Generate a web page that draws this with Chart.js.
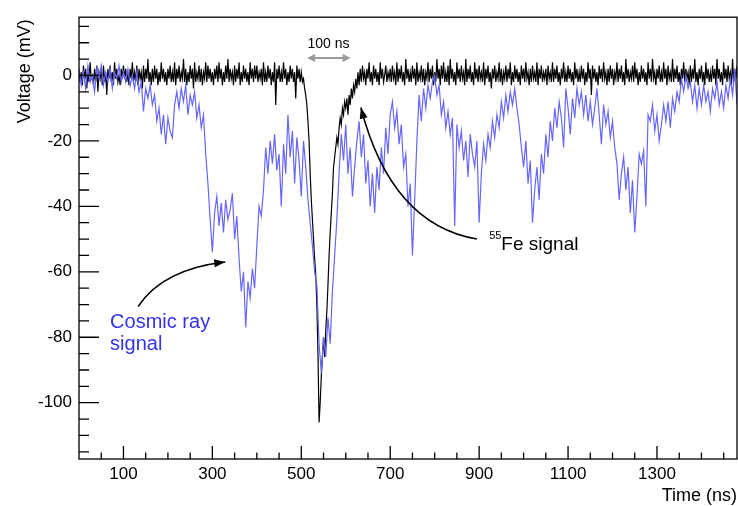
<!DOCTYPE html>
<html lang="en">
<head>
<meta charset="UTF-8">
<title>55Fe and cosmic ray waveforms</title>
<style>
  html, body { margin:0; padding:0; background:#fff; overflow:hidden; }
  canvas#chart { display:block; }
</style>
</head>
<body>
<canvas id="chart" width="738" height="506"></canvas>
<script src="https://cdn.jsdelivr.net/npm/chart.js"></script>
<script>
// sampling grids of the two scope traces (ns)
const feStep = 2.5;
const cosmicStep = 5;

// 55Fe signal, mV, one value every 2.5 ns from t = 0
const feSignal = [
  2,-2,1,-3,3,-1,2,-4,1,-2, 4,-1,0,-3,2,-2,3,-5,1,-1, 2,-3,3,-2,1,-6,2,-1,3,-2, 1,-3,4,-1,2,-2,0,-3,2,-1,
  3,-1,2,-2,1,-3,2,-1,4,-2, 1,-2,3,-3,2,-1,1,-4,3,-2, 2,-1,5,-2,1,-3,2,-2,3,-1, 2,-3,1,-2,4,-1,2,-2,1,-3,
  2,-1,3,-2,1,-2,4,-3,2,-1, 3,-2,1,-1,5,-2,2,-3,1,-2, 3,-1,2,-4,4,-2,1,-1,3,-2, 2,-3,1,-1,4,-2,3,-1,2,-2,
  1,-3,2,-1,3,-2,4,-1,2,-3, 1,-2,3,-1,5,-2,2,-1,1,-3, 3,-2,2,-1,4,-3,1,-2,3,-1, 2,-2,1,-3,4,-1,2,-2,3,-1,
  3,-2,1,-1,2,-3,4,-2,1,-2, 3,-1,2,-3,1,-2,4,-9,2,-1, 3,-2,1,-2,4,-1,2,-3,1,-2, 3,-1,2,-2,1,-7,3,-1,2,-2,
  1,-2,-1,-4,-6,-9,-14,-20,-30,-38, -44,-50,-56,-61,-70,-85,-106,-100,-92,-86, -80,-86,-78,-72,-64,-55,-48,-42,-36,-28, -25,-22,-19,-21,-16,-13,-15,-10,-12,-8,
  -10,-7,-12,-6,-9,-4,-7,-3,-5,-1, -4,1,-3,2,-2,3,-1,1,-3,2, -1,4,-2,1,-3,3,-1,2,-2,1, -3,4,-1,2,-2,0,3,-2,1,-1,
  2,-2,3,-1,1,-3,4,-2,2,-1, 3,-2,1,-3,5,-1,2,-2,1,-2, 3,-1,2,-3,4,-2,1,-1,3,-2, 2,-3,1,-1,4,-2,2,-1,3,-3,
  1,-2,5,-1,2,-3,3,-1,4,-2, 1,-2,3,-3,5,-1,2,-2,1,-3, 4,-1,2,-2,3,-1,1,-3,5,-2, 2,-1,3,-2,1,-3,4,-1,2,-2,
  3,-1,1,-2,4,-3,2,-1,3,-2, 1,-4,2,-1,3,-2,1,-1,4,-2, 2,-3,1,-1,3,-2,2,-1,4,-3, 1,-2,3,-1,2,-2,1,-3,3,-1,
  2,-2,4,-1,1,-3,2,-2,3,-1, 1,-2,4,-3,2,-1,3,-2,1,-1, 2,-3,3,-1,1,-2,4,-2,2,-1, 3,-2,1,-3,2,-1,4,-2,1,-2,
  3,-1,2,-2,1,-3,4,-1,2,-2, 1,-2,3,-1,2,-3,1,-2,4,-1, 2,-6,3,-1,2,-2,1,-3,3,-1, 2,-2,4,-1,1,-3,2,-2,3,-1,
  2,-3,1,-1,4,-2,2,-1,3,-2, 1,-3,5,-1,2,-2,1,-1,3,-2, 4,-1,2,-3,1,-2,3,-1,2,-2, 1,-3,4,-1,2,-2,5,-1,1,-3,
  2,-1,3,-2,1,-2,4,-1,2,-3, 3,-1,1,-2,5,-2,2,-1,3,-2, 1,-3,2,-1,4,-2,2,-1,1,-3, 3,-2,2,-1,5,-2,1,-3,2,-1,
  3,-2,1,-3,4,-1,2,-2,1,-2, 3,-1,2,-3,5,-1,2,-2,1,-3, 4,-1,2,-2,3,-1,1,-3,5,-2, 2,-1,3
];

// cosmic ray signal, mV, one value every 5 ns from t = 0
const cosmicSignal = [
  2,-3,1,-4,3,-2,0,-5,2,-1,3,-3,1,-2,2,-4,1,-1,3,-2,
  1,-2,2,-3,0,-4,1,-5,-2,-11,-4,-7,-3,-9,-6,-14,-10,-18,-12,-21,
  -13,-17,-19,-9,-5,-10,-4,-8,-3,-12,-6,-9,-5,-13,-9,-16,-12,-24,-33,-44,
  -54,-42,-37,-46,-39,-48,-38,-44,-41,-36,-50,-43,-56,-66,-60,-77,-63,-68,-59,-65,
  -52,-40,-43,-35,-22,-30,-20,-27,-18,-29,-24,-40,-21,-30,-12,-25,-17,-33,-19,-26,
  -37,-20,-28,-38,-45,-52,-60,-64,-82,-91,-80,-86,-74,-82,-66,-55,-44,-30,-18,-26,
  -15,-30,-22,-37,-28,-20,-14,-25,-18,-33,-26,-40,-30,-42,-28,-35,-22,-30,-16,-24,
  -12,-8,-16,-11,-21,-15,-28,-24,-40,-33,-55,-38,-20,-6,-14,-4,-10,-3,-7,-2,
  0,-6,-3,-12,-8,-16,-11,-18,-13,-46,-15,-22,-17,-26,-20,-31,-18,-24,-28,-20,
  -45,-30,-21,-26,-18,-22,-14,-19,-12,-16,-8,-13,-6,-11,-5,-9,-4,-10,-15,-22,
  -28,-20,-33,-26,-45,-35,-28,-38,-24,-30,-18,-25,-14,-20,-10,-16,-8,-13,-22,-4,
  -10,-18,-7,-13,-4,-9,-5,-12,-6,-14,-8,-15,-10,-4,-12,-21,-9,-15,-11,-19,
  -14,-22,-27,-38,-30,-25,-35,-28,-42,-32,-48,-37,-24,-27,-23,-40,-12,-14,-9,-17,
  -12,-20,-15,-9,-14,-8,-16,-7,-11,-5,-8,-1,-5,0,-4,-2,-8,-3,-10,-4,
  -9,-3,-8,-5,-11,-4,-7,-2,-9,-5,-10,-3,-7,-1,-6,2,-9
];

const xTickLabels = [100, 300, 500, 700, 900, 1100, 1300];
const yTickLabels = [0, -20, -40, -60, -80, -100];
const xRange = [0, 1480];
const yRange = [-117.2, 17.8];

const FONT = "'Liberation Sans', Arial, Helvetica, sans-serif";
const BLUE_LINE = 'rgb(102,102,255)';
const BLUE_TEXT = '#3434e6';

// annotation anchors in data coordinates (ns, mV)
const spanArrow = { from: 513, to: 611, y: 5.3, textX: 561, textY: 8.4 };
const feArrow = { start: [895, -50], ctrl: [702, -45.5], end: [634, -9.8] };
const feText = { x: 950, y: -53.3 };
const cosmicArrow = { start: [133, -70.6], ctrl: [188, -59.2], end: [329, -57] };
const cosmicText = { x: 70, y: -77.2, y2: -83.9 };

const toPoints = (arr, step) => arr.map((v, i) => ({ x: i * step, y: v }));

function arrowHead(ctx, x, y, ang, len, half) {
  const c = Math.cos(ang), s = Math.sin(ang);
  ctx.beginPath();
  ctx.moveTo(x, y);
  ctx.lineTo(x - len * c + half * s, y - len * s - half * c);
  ctx.lineTo(x - len * c - half * s, y - len * s + half * c);
  ctx.closePath();
  ctx.fill();
}

function curvedArrow(ctx, sx, sy, a) {
  const p0 = [sx.getPixelForValue(a.start[0]), sy.getPixelForValue(a.start[1])];
  const pc = [sx.getPixelForValue(a.ctrl[0]), sy.getPixelForValue(a.ctrl[1])];
  const p1 = [sx.getPixelForValue(a.end[0]), sy.getPixelForValue(a.end[1])];
  ctx.strokeStyle = '#000'; ctx.fillStyle = '#000'; ctx.lineWidth = 1.5;
  ctx.beginPath();
  ctx.moveTo(p0[0], p0[1]);
  ctx.quadraticCurveTo(pc[0], pc[1], p1[0], p1[1]);
  ctx.stroke();
  arrowHead(ctx, p1[0], p1[1], Math.atan2(p1[1] - pc[1], p1[0] - pc[0]), 11, 4);
}

const decorations = {
  id: 'decorations',
  afterDraw(chart) {
    const ctx = chart.ctx, sx = chart.scales.x, sy = chart.scales.y;
    const { left, right, top, bottom } = chart.chartArea;
    ctx.save();
    // frame
    ctx.strokeStyle = '#000'; ctx.lineWidth = 1.3;
    ctx.strokeRect(left, top, right - left, bottom - top);
    // inward ticks
    ctx.beginPath();
    for (let t = 50; t < xRange[1]; t += 50) {
      const x = sx.getPixelForValue(t);
      const len = xTickLabels.includes(t) ? 13 : 6.5;
      ctx.moveTo(x, bottom); ctx.lineTo(x, bottom - len);
    }
    for (let v = -115; v <= yRange[1]; v += 5) {
      const y = sy.getPixelForValue(v);
      const len = v % 20 === 0 ? 20 : 10;
      ctx.moveTo(left, y); ctx.lineTo(left + len, y);
    }
    ctx.stroke();

    // axis titles
    ctx.fillStyle = '#000';
    ctx.font = `18px ${FONT}`;
    ctx.textAlign = 'right'; ctx.textBaseline = 'alphabetic';
    ctx.fillText('Time (ns)', right, 501);
    ctx.save();
    ctx.translate(30, top + 2);
    ctx.rotate(-Math.PI / 2);
    ctx.fillText('Voltage (mV)', 0, 0);
    ctx.restore();

    // 100 ns span
    const ax0 = sx.getPixelForValue(spanArrow.from), ax1 = sx.getPixelForValue(spanArrow.to);
    const ay = sy.getPixelForValue(spanArrow.y);
    ctx.strokeStyle = '#9a9a9a'; ctx.fillStyle = '#9a9a9a'; ctx.lineWidth = 2;
    ctx.beginPath(); ctx.moveTo(ax0 + 4, ay); ctx.lineTo(ax1 - 4, ay); ctx.stroke();
    arrowHead(ctx, ax0, ay, Math.PI, 8, 4);
    arrowHead(ctx, ax1, ay, 0, 8, 4);
    ctx.fillStyle = '#000';
    ctx.font = `14px ${FONT}`;
    ctx.textAlign = 'center';
    ctx.fillText('100 ns', sx.getPixelForValue(spanArrow.textX), sy.getPixelForValue(spanArrow.textY));

    // 55Fe label
    curvedArrow(ctx, sx, sy, feArrow);
    const fx = sx.getPixelForValue(feText.x), fy = sy.getPixelForValue(feText.y);
    ctx.fillStyle = '#000';
    ctx.textAlign = 'left';
    ctx.font = `19px ${FONT}`;
    ctx.fillText('Fe signal', fx, fy);
    ctx.textAlign = 'right';
    ctx.font = `11px ${FONT}`;
    ctx.fillText('55', fx, fy - 11);

    // cosmic ray label
    curvedArrow(ctx, sx, sy, cosmicArrow);
    ctx.fillStyle = BLUE_TEXT;
    ctx.textAlign = 'left';
    ctx.font = `20px ${FONT}`;
    const cx = sx.getPixelForValue(cosmicText.x);
    ctx.fillText('Cosmic ray', cx, sy.getPixelForValue(cosmicText.y));
    ctx.fillText('signal', cx, sy.getPixelForValue(cosmicText.y2));
    ctx.restore();
  }
};

new Chart(document.getElementById('chart').getContext('2d'), {
  type: 'scatter',
  data: {
    datasets: [
      { label: 'Cosmic ray signal', data: toPoints(cosmicSignal, cosmicStep), showLine: true,
        borderColor: BLUE_LINE, borderWidth: 1.2, pointRadius: 0, order: 0 },
      { label: '55Fe signal', data: toPoints(feSignal, feStep), showLine: true,
        borderColor: '#000', borderWidth: 1.2, pointRadius: 0, order: 1 }
    ]
  },
  options: {
    responsive: false,
    animation: false,
    devicePixelRatio: 1,
    layout: { padding: { top: 13, right: 1, left: 0, bottom: 0 } },
    plugins: { legend: { display: false }, tooltip: { enabled: false } },
    scales: {
      x: {
        type: 'linear', min: xRange[0], max: xRange[1],
        grid: { display: false, drawTicks: false },
        border: { display: false },
        afterBuildTicks: s => { s.ticks = xTickLabels.map(v => ({ value: v })); },
        afterFit: s => { s.height = 47; },
        ticks: { color: '#000', font: { family: FONT, size: 17 }, padding: 5,
                 maxRotation: 0, autoSkip: false, callback: v => String(v) }
      },
      y: {
        type: 'linear', min: yRange[0], max: yRange[1],
        grid: { display: false, drawTicks: false },
        border: { display: false },
        afterBuildTicks: s => { s.ticks = yTickLabels.map(v => ({ value: v })); },
        afterFit: s => { s.width = 79; },
        ticks: { color: '#000', font: { family: FONT, size: 17 }, padding: 7,
                 autoSkip: false, callback: v => String(v) }
      }
    }
  },
  plugins: [decorations]
});
</script>
</body>
</html>
